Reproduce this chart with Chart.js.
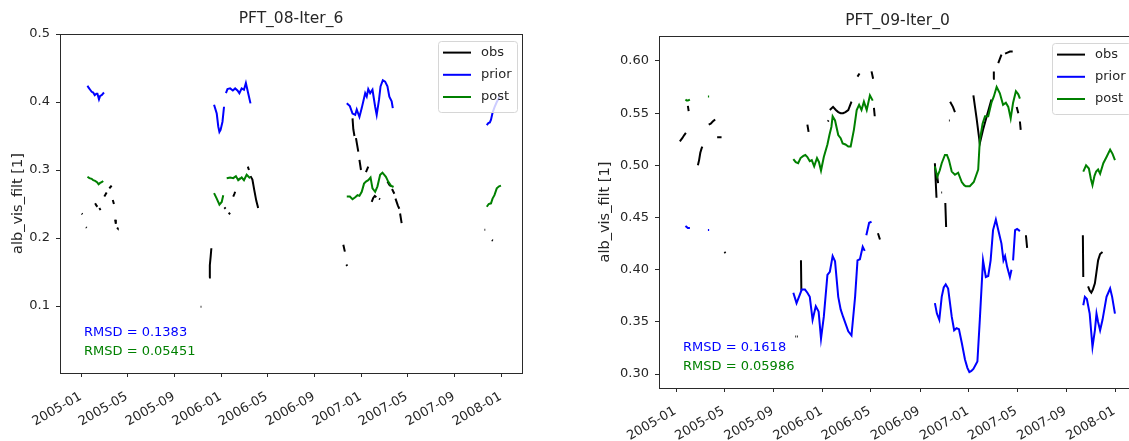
<!DOCTYPE html>
<html>
<head>
<meta charset="utf-8">
<script src="https://cdn.jsdelivr.net/npm/chart.js@4.4.1/dist/chart.umd.min.js"></script>
<style>
  html, body { margin: 0; padding: 0; background: #fff; overflow: hidden; }
  body { width: 1129px; height: 441px; position: relative; }
  .panel { position: absolute; top: 0; height: 441px; overflow: hidden; }
  #leftBox { left: 0; width: 560px; }
  #rightBox { left: 560px; width: 569px; }
</style>
</head>
<body>
<div class="panel" id="leftBox"><canvas id="left" width="560" height="441"></canvas></div>
<div class="panel" id="rightBox"><canvas id="right" width="600" height="441"></canvas></div>
<script>
// x values are days since 2005-01-01, null value = gap in the line
const xTickDays = [0, 120, 243, 365, 485, 608, 730, 850, 973, 1095];
const xTickLabels = ['2005-01', '2005-05', '2005-09', '2006-01', '2006-05',
                     '2006-09', '2007-01', '2007-05', '2007-09', '2008-01'];
const pft08YTicks = [0.1, 0.2, 0.3, 0.4, 0.5];
const pft09YTicks = [0.30, 0.35, 0.40, 0.45, 0.50, 0.55, 0.60];

// ---- PFT_08-Iter_6 ----
const pft08ObsDay = [
  0, 2, null, 11, 13, null, 35, 38, 41, null, 46, 49, null,
  59, 62, 65, null, 72, 75, 78, null, 81, 84, null, 87, 89, null, 92, 94, null,
  310, 312, null, 332, 334, 336, 338, null, 372, 375, null, 383, 387, null,
  395, 398, 400, null, 409, 413, null, 433, 436, null, 440, 445, 450, 455, 460, null,
  682, 686, null, 690, 692, null, 706, 708, 711, null, 715, 718, 721, null,
  724, 728, null, 741, 744, 747, null, 756, 760, 764, 768, null, 775, 778, null,
  797, 802, 806, null, 809, 815, null, 818, 824, 828, null, 830, 834, null,
  1050, 1052, null, 1069, 1072
];
const pft08ObsVal = [
  0.236, 0.235, null, 0.216, 0.215, null, 0.251, 0.248, 0.246, null, 0.244, 0.241, null,
  0.261, 0.264, 0.267, null, 0.273, 0.275, 0.277, null, 0.256, 0.250, null, 0.227, 0.221, null, 0.215, 0.214, null,
  0.099, 0.099, null, 0.142, 0.160, 0.172, 0.185, null, 0.245, 0.243, null, 0.237, 0.235, null,
  0.261, 0.265, 0.268, null, 0.288, 0.286, null, 0.305, 0.300, null, 0.291, 0.286, 0.270, 0.255, 0.244, null,
  0.190, 0.180, null, 0.161, 0.159, null, 0.376, 0.360, 0.350, null, 0.347, 0.337, 0.327, null,
  0.315, 0.300, null, 0.297, 0.301, 0.305, null, 0.253, 0.259, 0.262, 0.260, null, 0.258, 0.257, null,
  0.283, 0.278, 0.276, null, 0.272, 0.265, null, 0.258, 0.248, 0.243, null, 0.236, 0.222, null,
  0.212, 0.212, null, 0.197, 0.196
];
const pft08PriorDay = [
  15, 18, 22, 26, 30, 34, 38, 41, 45, 48, 52, 55, 58, null,
  345, 352, 356, 359, 362, 367, 371, null,
  376, 380, 387, 394, 400, 406, 411, 417, 423, 428, 434, 440, null,
  691, 699, 706, 713, 717, 724, 730, 739, 743, 747, 752, 758, 765, 769, 775, 779, 785, 791, 797, 802, 808, 811, null,
  1056, 1060, 1064, 1067, 1071, 1076, 1082, 1090
];
const pft08PriorVal = [
  0.424, 0.421, 0.418, 0.415, 0.414, 0.410, 0.412, 0.412, 0.404, 0.409, 0.410, 0.412, 0.414, null,
  0.396, 0.383, 0.364, 0.356, 0.359, 0.371, 0.393, null,
  0.413, 0.419, 0.420, 0.417, 0.420, 0.417, 0.413, 0.420, 0.418, 0.428, 0.413, 0.398, null,
  0.398, 0.394, 0.383, 0.381, 0.389, 0.378, 0.391, 0.413, 0.408, 0.419, 0.413, 0.418, 0.393, 0.381, 0.403, 0.423, 0.432, 0.430, 0.423, 0.408, 0.401, 0.391, null,
  0.366, 0.369, 0.370, 0.374, 0.384, 0.392, 0.400, 0.408
];
const pft08PostDay = [
  15, 20, 26, 30, 35, 40, 44, 48, 52, 56, null,
  345, 352, 359, 365, 369, null,
  378, 387, 395, 402, 408, 417, 423, 430, 439, null,
  691, 699, 706, 713, 719, 724, 730, 736, 741, 747, 753, 758, 765, 771, 778, 784, 793, 799, 806, 813, null,
  1056, 1061, 1067, 1071, 1076, 1082, 1088, 1093
];
const pft08PostVal = [
  0.290, 0.288, 0.287, 0.285, 0.284, 0.282, 0.279, 0.281, 0.282, 0.284, null,
  0.266, 0.258, 0.249, 0.253, 0.263, null,
  0.288, 0.289, 0.288, 0.291, 0.285, 0.289, 0.285, 0.293, 0.288, null,
  0.261, 0.261, 0.257, 0.260, 0.263, 0.262, 0.268, 0.280, 0.283, 0.285, 0.289, 0.273, 0.268, 0.276, 0.293, 0.296, 0.290, 0.283, 0.277, 0.275, null,
  0.246, 0.250, 0.251, 0.258, 0.263, 0.273, 0.276, 0.277
];

// ---- PFT_09-Iter_0 ----
const pft09ObsDay = [
  9, 15, 20, 24, null, 29, 31, null, 54, 57, 60, 63, 65, null, 81, 86, 91, 97, null,
  102, 113, null, 120, 123, null,
  297, 299, null, 301, 303, null, 299, 301, null, 311, 312, null, 327, 330, null, 378, 380, null,
  383, 391, 398, 404, 410, 416, 422, 429, 437, null, 452, 457, null, 461, 463, null,
  487, 491, null, 493, 495, null, 503, 508, null,
  645, 647, 649, null, 650, 653, null, 661, 663, null, 671, 673, null, 680, 682, null,
  683, 690, 695, null, 741, 749, 757, 765, 775, 786, null, 790, 792, null,
  803, 807, 811, null, 820, 826, 832, 839, null, 849, 853, null, 857, 859, null, 872, 875, null,
  1014, 1015, null, 1027, 1031, 1035, 1039, 1044, 1048, 1052, 1057, 1063
];
const pft09ObsVal = [
  0.523, 0.526, 0.529, 0.531, null, 0.557, 0.552, null, 0.500, 0.505, 0.512, 0.516, 0.518, null, 0.539, 0.540, 0.542, 0.544, null,
  0.527, 0.527, null, 0.417, 0.416, null,
  0.336, 0.336, null, 0.336, 0.336, null, 0.330, 0.330, null, 0.409, 0.380, null, 0.539, 0.532, null, 0.542, 0.543, null,
  0.553, 0.556, 0.553, 0.551, 0.550, 0.550, 0.551, 0.553, 0.561, null, 0.585, 0.588, null, 0.590, 0.590, null,
  0.590, 0.583, null, 0.555, 0.547, null, 0.435, 0.429, null,
  0.502, 0.485, 0.469, null, 0.492, 0.483, null, 0.474, 0.474, null, 0.464, 0.441, null, 0.543, 0.543, null,
  0.561, 0.556, 0.551, null, 0.567, 0.545, 0.521, 0.534, 0.548, 0.563, null, 0.583, 0.590, null,
  0.598, 0.602, 0.606, null, 0.607, 0.608, 0.609, 0.609, null, 0.556, 0.550, null, 0.542, 0.534, null, 0.433, 0.421, null,
  0.433, 0.393, null, 0.384, 0.380, 0.378, 0.381, 0.387, 0.398, 0.409, 0.415, 0.417
];
const pft09PriorDay = [
  23, 26, 29, 34, null, 79, 82, null,
  292, 300, 307, 313, 321, 327, 333, 340, 348, 355, 361, 368, 377, 383, 390, 396, 404, 410, 416, 429, 437, 446, 452, 458, 465, 470, null,
  474, 481, 487, null,
  645, 650, 656, 662, 667, 672, 678, 687, 693, 699, 705, 712, 720, 726, 731, 736, 741, 751, 757, 765, 772, 778, 784, 790, 797, 803, 811, 816, 820, 825, 832, 836, null,
  840, 845, 850, 857, null,
  1015, 1019, 1024, 1031, 1038, 1044, 1048, 1052, 1057, 1063, 1073, 1082, 1087, 1094
];
const pft09PriorVal = [
  0.442, 0.441, 0.440, 0.440, null, 0.438, 0.438, null,
  0.378, 0.368, 0.375, 0.381, 0.381, 0.378, 0.374, 0.352, 0.365, 0.360, 0.334, 0.355, 0.395, 0.398, 0.413, 0.408, 0.374, 0.362, 0.355, 0.341, 0.337, 0.374, 0.409, 0.410, 0.422, 0.418, null,
  0.433, 0.445, 0.446, null,
  0.368, 0.358, 0.352, 0.374, 0.383, 0.386, 0.382, 0.355, 0.342, 0.344, 0.343, 0.330, 0.314, 0.306, 0.302, 0.303, 0.305, 0.312, 0.352, 0.409, 0.393, 0.394, 0.409, 0.438, 0.448, 0.438, 0.425, 0.409, 0.413, 0.403, 0.393, 0.400, null,
  0.409, 0.438, 0.439, 0.437, null,
  0.366, 0.374, 0.372, 0.358, 0.326, 0.342, 0.358, 0.350, 0.342, 0.352, 0.374, 0.382, 0.374, 0.358
];
const pft09PostDay = [
  23, 26, 29, 34, null, 79, 82, null,
  292, 298, 304, 310, 317, 322, 327, 333, 338, 344, 351, 356, 361, 368, 377, 382, 387, 390, 396, 404, 410, 415, 422, 429, 435, 443, 450, 456, 462, 468, 475, 483, 490, null,
  645, 651, 657, 662, 670, 675, 680, 687, 695, 703, 712, 718, 722, 732, 742, 753, 757, 764, 770, 778, 786, 792, 799, 807, 815, 822, 828, 834, 840, 847, 853, 857, null,
  1015, 1022, 1029, 1034, 1038, 1043, 1047, 1052, 1057, 1065, 1073, 1082, 1088, 1094
];
const pft09PostVal = [
  0.563, 0.562, 0.562, 0.563, null, 0.566, 0.566, null,
  0.506, 0.503, 0.502, 0.507, 0.509, 0.510, 0.508, 0.504, 0.505, 0.499, 0.507, 0.503, 0.495, 0.508, 0.520, 0.529, 0.537, 0.547, 0.543, 0.529, 0.526, 0.521, 0.520, 0.518, 0.518, 0.534, 0.553, 0.558, 0.553, 0.561, 0.553, 0.567, 0.562, null,
  0.499, 0.489, 0.495, 0.502, 0.510, 0.510, 0.505, 0.494, 0.491, 0.493, 0.484, 0.481, 0.480, 0.480, 0.484, 0.496, 0.524, 0.540, 0.547, 0.547, 0.560, 0.566, 0.575, 0.569, 0.558, 0.560, 0.556, 0.545, 0.560, 0.571, 0.568, 0.564, null,
  0.494, 0.500, 0.497, 0.487, 0.481, 0.490, 0.494, 0.496, 0.492, 0.502, 0.508, 0.515, 0.511, 0.505
];

Chart.defaults.font.family = 'DejaVu Sans';
Chart.defaults.font.size = 13;
Chart.defaults.color = '#262626';

// null entries keep the previous day so the line just breaks there
function toPoints(days, vals) {
  let last = 0;
  return days.map((d, i) => {
    if (d !== null) last = d;
    return { x: last, y: vals[i] };
  });
}

function series(label, color, days, vals, order) {
  return {
    label: label,
    data: toPoints(days, vals),
    borderColor: color,
    backgroundColor: color,
    borderWidth: 2,
    pointRadius: 0,
    spanGaps: false,
    tension: 0,
    order: order
  };
}

// frame, title, RMSD notes and a matplotlib-like legend
function overlay(title, rmsd) {
  return {
    id: 'overlay',
    afterDraw(chart) {
      const ctx = chart.ctx;
      const a = chart.chartArea;
      ctx.save();
      ctx.strokeStyle = '#2a2a2a';
      ctx.lineWidth = 1;
      ctx.strokeRect(Math.round(a.left) + 0.5, Math.round(a.top) + 0.5,
                     Math.round(a.width), Math.round(a.height));

      ctx.fillStyle = '#262626';
      ctx.font = '15.5px "DejaVu Sans"';
      ctx.textAlign = 'center';
      ctx.textBaseline = 'middle';
      ctx.fillText(title, (a.left + a.right) / 2, a.top - 15.5);

      ctx.font = '13px "DejaVu Sans"';
      ctx.textAlign = 'left';
      ctx.fillStyle = 'blue';
      ctx.fillText('RMSD = ' + rmsd[0], a.left + 24, a.bottom - 40.5);
      ctx.fillStyle = 'green';
      ctx.fillText('RMSD = ' + rmsd[1], a.left + 24, a.bottom - 21.5);

      const bw = 79, bh = 71;
      const bx = a.right - 5 - bw, by = a.top + 7;
      ctx.beginPath();
      ctx.roundRect(bx + 0.5, by + 0.5, bw, bh, 3);
      ctx.fillStyle = 'rgba(255,255,255,0.8)';
      ctx.fill();
      ctx.strokeStyle = '#d6d6d6';
      ctx.stroke();
      const items = [['obs', 'black'], ['prior', 'blue'], ['post', 'green']];
      items.forEach((it, i) => {
        const y = by + 11.6 + i * 22.2;
        ctx.strokeStyle = it[1];
        ctx.lineWidth = 2;
        ctx.beginPath();
        ctx.moveTo(bx + 5, y);
        ctx.lineTo(bx + 33, y);
        ctx.stroke();
        ctx.fillStyle = '#262626';
        ctx.fillText(it[0], bx + 43, y);
      });
      ctx.restore();
    }
  };
}

function makeChart(id, cfg) {
  return new Chart(document.getElementById(id), {
    type: 'line',
    data: {
      datasets: [
        series('obs', 'black', cfg.obs[0], cfg.obs[1], 3),
        series('prior', 'blue', cfg.prior[0], cfg.prior[1], 2),
        series('post', 'green', cfg.post[0], cfg.post[1], 1)
      ]
    },
    options: {
      responsive: false,
      animation: false,
      events: [],
      layout: {
        autoPadding: false,
        padding: { left: 0, right: cfg.padRight, top: cfg.padTop, bottom: 0 }
      },
      plugins: {
        legend: { display: false },
        tooltip: { enabled: false },
        title: { display: false }
      },
      scales: {
        x: {
          type: 'linear',
          min: cfg.xMin,
          max: cfg.xMax,
          afterBuildTicks: (s) => { s.ticks = xTickDays.map(v => ({ value: v })); },
          afterFit: (s) => { s.height = cfg.xAxisH; },
          ticks: {
            autoSkip: false,
            minRotation: 30,
            maxRotation: 30,
            padding: cfg.xPad,
            labelOffset: -1,
            callback: (v) => xTickLabels[xTickDays.indexOf(v)]
          },
          grid: { drawOnChartArea: false, drawTicks: true, tickLength: 4, color: '#2a2a2a' },
          border: { display: false }
        },
        y: {
          min: cfg.yMin,
          max: cfg.yMax,
          afterBuildTicks: (s) => { s.ticks = cfg.yTicks.map(v => ({ value: v })); },
          afterFit: (s) => { s.width = cfg.yAxisW; },
          ticks: {
            padding: 6,
            callback: (v) => v.toFixed(cfg.decimals)
          },
          title: {
            display: true,
            text: 'alb_vis_filt [1]',
            font: { size: 14.5 },
            padding: { top: cfg.titlePad, bottom: 0 }
          },
          grid: { drawOnChartArea: false, drawTicks: true, tickLength: 4, color: '#2a2a2a' },
          border: { display: false }
        }
      }
    },
    plugins: [overlay(cfg.title, cfg.rmsd)]
  });
}

makeChart('left', {
  title: 'PFT_08-Iter_6',
  rmsd: ['0.1383', '0.05451'],
  obs: [pft08ObsDay, pft08ObsVal],
  prior: [pft08PriorDay, pft08PriorVal],
  post: [pft08PostDay, pft08PostVal],
  xMin: -56.6, xMax: 1147.8,
  yMin: 0.0015, yMax: 0.5,
  yTicks: pft08YTicks, decimals: 1,
  yAxisW: 60, xAxisH: 68, padTop: 34, padRight: 38, titlePad: 9.3, xPad: 12
});

makeChart('right', {
  title: 'PFT_09-Iter_0',
  rmsd: ['0.1618', '0.05986'],
  obs: [pft09ObsDay, pft09ObsVal],
  prior: [pft09PriorDay, pft09PriorVal],
  post: [pft09PostDay, pft09PostVal],
  xMin: -43, xMax: 1146.5,
  yMin: 0.2867, yMax: 0.6239,
  yTicks: pft09YTicks, decimals: 2,
  yAxisW: 99, xAxisH: 53, padTop: 36, padRight: 24, titlePad: 36.7, xPad: 11.5
});
</script>
</body>
</html>
